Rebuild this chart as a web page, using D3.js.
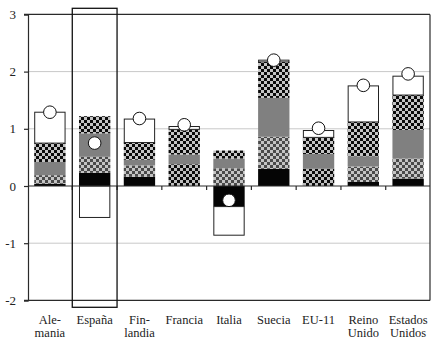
<!DOCTYPE html>
<html><head><meta charset="utf-8">
<script src="https://cdn.jsdelivr.net/npm/d3@7"></script>
<style>html,body{margin:0;padding:0;background:#fff;}svg{display:block;}</style>
</head><body>
<svg id="c" width="431" height="339"></svg>
<script>
const categories = ["Alemania","España","Finlandia","Francia","Italia","Suecia","EU-11","Reino Unido","Estados Unidos"];
const labelLines = [["Ale-","mania"],["España"],["Fin-","landia"],["Francia"],["Italia"],["Suecia"],["EU-11"],["Reino","Unido"],["Estados","Unidos"]];
const negro        = [0.04, 0.23, 0.16, 0.00, -0.36, 0.30, 0.00, 0.07, 0.13];
const cuadroNegro  = [0.00, 0.00, 0.00, 0.38, 0.00, 0.00, 0.30, 0.00, 0.00];
const cuadroOscuro = [0.15, 0.28, 0.20, 0.00, 0.31, 0.56, 0.00, 0.27, 0.35];
const gris         = [0.23, 0.41, 0.10, 0.17, 0.17, 0.68, 0.26, 0.18, 0.50];
const punteado     = [0.33, 0.30, 0.30, 0.44, 0.14, 0.63, 0.29, 0.60, 0.61];
const blanco       = [0.54, -0.55, 0.41, 0.05, -0.50, 0.03, 0.12, 0.63, 0.33];
const total        = [1.29, 0.75, 1.18, 1.07, -0.25, 2.20, 1.01, 1.76, 1.96];
const yTicks = [-2, -1, 0, 1, 2, 3];
const highlighted = "España";

const seriesKeys = ["negro","cuadroNegro","cuadroOscuro","gris","punteado","blanco"];
const seriesData = {negro, cuadroNegro, cuadroOscuro, gris, punteado, blanco};
const table = categories.map((c,i)=>{const o={cat:c}; seriesKeys.forEach(k=>o[k]=seriesData[k][i]); return o;});

const svg = d3.select("#c");
const L=28, R=430, T=14.4, B=300.4;
const x = d3.scaleBand().domain(categories).range([27.5, 430.5]).paddingInner(0.3).paddingOuter(0.15);
const y = d3.scaleLinear().domain([-2,3]).range([B, T]);
const step = x.step();

const defs = svg.append("defs");
function checker(id, bg, fg){
  const p = defs.append("pattern").attr("id",id).attr("patternUnits","userSpaceOnUse").attr("width",6).attr("height",6);
  p.append("rect").attr("width",6).attr("height",6).attr("fill",bg);
  p.append("rect").attr("x",0).attr("y",0).attr("width",3).attr("height",3).attr("fill",fg);
  p.append("rect").attr("x",3).attr("y",3).attr("width",3).attr("height",3).attr("fill",fg);
}
checker("pDots", "#c4c4c4", "#0a0a0a");
checker("pDark", "#4a4a4a", "#c4c4c4");
checker("pBlack", "#0a0a0a", "#bdbdbd");
const fills = {negro:"#050505", cuadroNegro:"url(#pBlack)", cuadroOscuro:"url(#pDark)", gris:"#808080", punteado:"url(#pDots)", blanco:"#ffffff"};

// grid lines
svg.append("g").selectAll("line").data(yTicks.filter(v=>v!==0 && v!==3 && v!==-2)).join("line")
  .attr("x1",L).attr("x2",R).attr("y1",d=>y(d)).attr("y2",d=>y(d))
  .attr("stroke","#c8c8c8").attr("stroke-width",1);

// stacked bars
const stack = d3.stack().keys(seriesKeys).offset(d3.stackOffsetDiverging);
const stacked = stack(table);
const gBars = svg.append("g");
stacked.forEach(s=>{
  const key = s.key;
  gBars.append("g").selectAll("rect").data(s.filter(d=>d[1]-d[0]!==0)).join("rect")
    .attr("x", d=> x(d.data.cat) + (key==="blanco"?0.5:0))
    .attr("width", x.bandwidth() - (key==="blanco"?1:0))
    .attr("y", d=> y(Math.max(d[0],d[1])))
    .attr("height", d=> Math.abs(y(d[0])-y(d[1])))
    .attr("fill", fills[key])
    .attr("stroke", key==="blanco" ? "#222" : "none")
    .attr("stroke-width", 1);
});

// frame
const fr = svg.append("g").attr("stroke","#2a2a2a").attr("stroke-width",1.2);
fr.append("line").attr("x1",L-4).attr("x2",R).attr("y1",y(3)).attr("y2",y(3));
fr.append("line").attr("x1",L-4).attr("x2",R).attr("y1",y(-2)).attr("y2",y(-2));
fr.append("line").attr("x1",R).attr("x2",R).attr("y1",y(3)).attr("y2",y(-2));
fr.append("line").attr("x1",L).attr("x2",R).attr("y1",y(0)).attr("y2",y(0));

// y axis
const yAxis = svg.append("g").attr("transform",`translate(${L},0)`)
  .call(d3.axisLeft(y).tickValues(yTicks).tickSize(4).tickPadding(8).tickFormat(d3.format("d")));
yAxis.select(".domain").attr("stroke","#2a2a2a").attr("stroke-width",1.2);
yAxis.selectAll(".tick line").attr("stroke","#2a2a2a").attr("stroke-width",1.2);
yAxis.selectAll("text").attr("font-family","Liberation Serif").attr("font-size",13).attr("fill","#222")
  .text(d=> d<0 ? "-"+Math.abs(d) : d);

// category boundary ticks on zero line
svg.append("g").selectAll("line").data(categories.slice(1)).join("line")
  .attr("x1",d=>x(d)-step*0.15).attr("x2",d=>x(d)-step*0.15)
  .attr("y1",y(0)).attr("y2",y(0)+4).attr("stroke","#2a2a2a").attr("stroke-width",1.2);

// total circles
svg.append("g").selectAll("circle").data(categories).join("circle")
  .attr("cx",d=>x(d)+x.bandwidth()/2).attr("cy",(d,i)=>y(total[i]))
  .attr("r",6.3).attr("fill","#fff").attr("stroke","#111").attr("stroke-width",1);

// highlight box
svg.append("rect").attr("x",x(highlighted)-step*0.15).attr("width",step)
  .attr("y",8.3).attr("height",299)
  .attr("fill","none").attr("stroke","#111").attr("stroke-width",1.3);

// x labels
const xl = svg.append("g");
categories.forEach((c,i)=>{
  labelLines[i].forEach((ln,j)=> xl.append("text")
    .attr("x",x(c)+x.bandwidth()/2).attr("y",323.5 + j*13.5)
    .attr("text-anchor","middle").attr("font-family","Liberation Serif").attr("font-size",12.5).attr("fill","#222")
    .text(ln));
});
</script>
</body></html>
